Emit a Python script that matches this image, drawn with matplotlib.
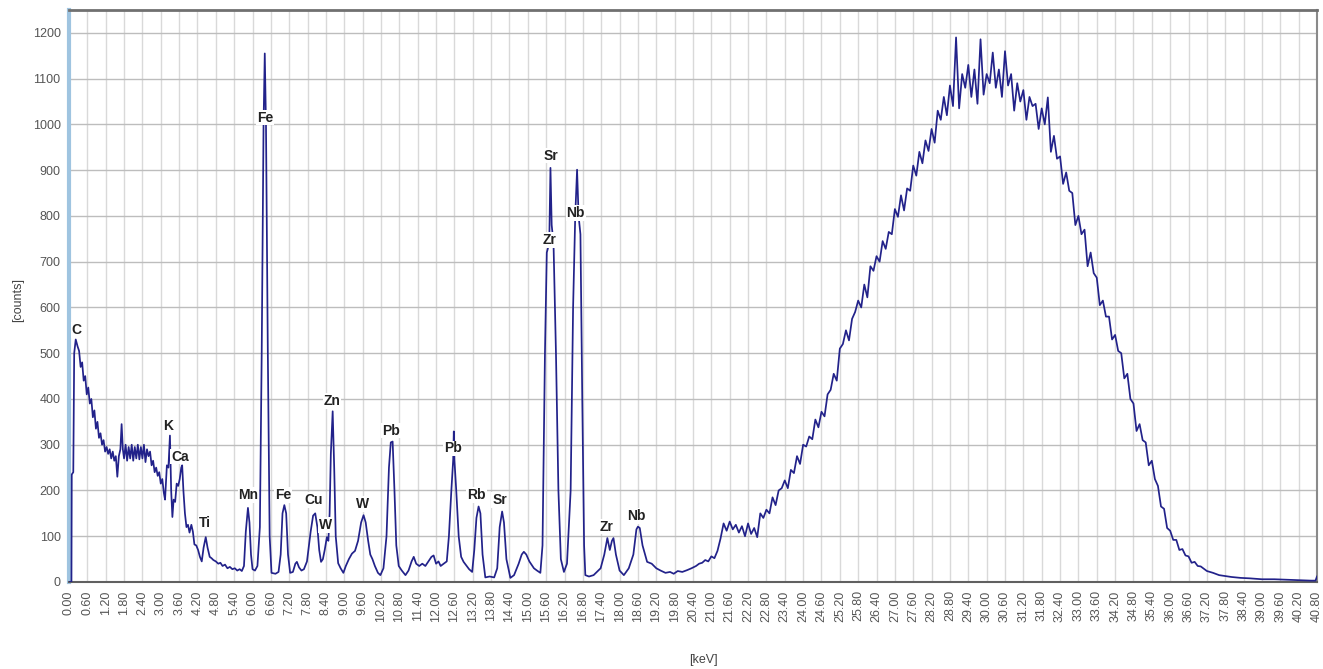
import numpy as np
import matplotlib
matplotlib.use("Agg")
import matplotlib.pyplot as plt

plt.rcParams['font.family'] = ['Liberation Sans', 'DejaVu Sans']

# low-energy part of the spectrum (keV, counts)
kev_low = [0.00, 0.08, 0.09, 0.14, 0.17, 0.22, 0.28, 0.33, 0.38, 0.43, 0.48, 0.53, 0.58, 0.63,
           0.68, 0.73, 0.78, 0.83, 0.88, 0.93, 0.98, 1.03, 1.08, 1.13, 1.18, 1.23, 1.28, 1.33,
           1.38, 1.43, 1.48, 1.53, 1.58, 1.63, 1.68, 1.72, 1.76, 1.80, 1.85, 1.90, 1.95, 2.00,
           2.05, 2.10, 2.15, 2.20, 2.25, 2.30, 2.35, 2.40, 2.45, 2.50, 2.55, 2.60, 2.65, 2.70,
           2.75, 2.80, 2.85, 2.90, 2.95, 3.00, 3.05, 3.10, 3.14, 3.20, 3.25, 3.30, 3.34, 3.38,
           3.42, 3.47, 3.52, 3.57, 3.62, 3.67, 3.70, 3.74, 3.79, 3.84, 3.89, 3.94, 4.00, 4.05,
           4.10, 4.16, 4.22, 4.28, 4.34, 4.40, 4.47, 4.53, 4.60, 4.66, 4.72, 4.80, 4.88, 4.95,
           5.02, 5.10, 5.18, 5.26, 5.34, 5.42, 5.50, 5.58, 5.65, 5.72, 5.78, 5.85, 5.90, 5.95,
           6.00, 6.08, 6.16, 6.24, 6.30, 6.36, 6.40, 6.44, 6.50, 6.56, 6.62, 6.75, 6.85, 6.92,
           6.98, 7.04, 7.10, 7.16, 7.23, 7.32, 7.40, 7.45, 7.52, 7.60, 7.68, 7.78, 7.90, 7.98,
           8.05, 8.12, 8.18, 8.24, 8.30, 8.36, 8.43, 8.48, 8.52, 8.56, 8.62, 8.67, 8.72, 8.80,
           8.88, 8.97, 9.05, 9.15, 9.25, 9.35, 9.45, 9.55, 9.63, 9.70, 9.78, 9.85, 9.92, 10.00,
           10.10, 10.18, 10.28, 10.38, 10.46, 10.52, 10.58, 10.64, 10.70, 10.78, 10.88, 11.00,
           11.10, 11.20, 11.27, 11.35, 11.45, 11.55, 11.65, 11.75, 11.85, 11.92, 12.00, 12.08,
           12.15, 12.25, 12.35, 12.42, 12.50, 12.56, 12.58, 12.60, 12.66, 12.74, 12.82, 12.90,
           13.00, 13.08, 13.18, 13.25, 13.32, 13.39, 13.45, 13.52, 13.61, 13.75, 13.90, 14.00,
           14.08, 14.16, 14.22, 14.30, 14.43, 14.55, 14.70, 14.80, 14.87, 14.95, 15.05, 15.20,
           15.30, 15.41, 15.48, 15.56, 15.62, 15.70, 15.74, 15.78, 15.84, 15.92, 16.00, 16.08,
           16.18, 16.28, 16.40, 16.48, 16.55, 16.61, 16.66, 16.72, 16.78, 16.84, 16.88, 17.00,
           17.15, 17.30, 17.38, 17.50, 17.60, 17.68, 17.75, 17.80, 17.88, 18.00, 18.14, 18.30,
           18.45, 18.55, 18.60, 18.66, 18.75, 18.90, 19.05, 19.20, 19.34, 19.50, 19.65, 19.77,
           19.90, 20.05, 20.21, 20.35, 20.50, 20.60]
cnt_low = [0, 0, 235, 240, 500, 530, 515, 505, 470, 480, 440, 450, 410, 425,
           390, 400, 360, 375, 335, 350, 315, 325, 300, 310, 285, 295, 280, 290,
           270, 285, 265, 275, 230, 275, 290, 345, 290, 270, 300, 265, 295, 270,
           300, 265, 295, 270, 300, 268, 295, 270, 300, 262, 290, 275, 285, 255,
           265, 240, 250, 232, 240, 215, 225, 195, 180, 255, 250, 320, 200, 142,
           180, 175, 215, 210, 225, 250, 255, 200, 150, 120, 125, 108, 125, 110,
           82, 80, 70, 55, 45, 75, 98, 75, 55, 52, 48, 45, 40, 42,
           35, 38, 30, 33, 28, 30, 25, 28, 24, 35, 110, 162, 130, 60,
           28, 25, 35, 120, 500, 1000, 1155, 1000, 500, 100, 20, 18, 22, 60,
           150, 168, 150, 60, 20, 22, 40, 44, 32, 25, 28, 45, 110, 145,
           150, 120, 70, 44, 50, 70, 98, 90, 150, 280, 373, 250, 100, 41,
           30, 20, 35, 50, 62, 68, 90, 130, 146, 130, 90, 60, 50, 35,
           20, 15, 30, 100, 250, 305, 307, 200, 80, 35, 25, 15,
           25, 45, 55, 40, 35, 40, 35, 45, 55, 58, 40, 45,
           35, 40, 45, 100, 200, 267, 329, 267, 200, 100, 55, 44,
           35, 28, 22, 70, 140, 165, 150, 60, 10, 12, 10, 30,
           120, 154, 130, 50, 9, 15, 40, 60, 66, 60, 45, 30,
           25, 20, 80, 500, 720, 740, 905, 780, 740, 500, 200, 50,
           22, 40, 200, 600, 800, 901, 800, 760, 400, 80, 15, 12,
           15, 25, 30, 60, 96, 70, 90, 96, 60, 25, 15, 30,
           60, 115, 121, 118, 80, 44, 40, 30, 25, 20, 22, 18,
           24, 22, 26, 30, 35, 40]

# broad scatter hump, channels every 0.1 keV from 20.7 keV
bump_start = 20.7
bump_step = 0.1
cnt_bump = [42, 48, 45, 56, 52, 68, 95, 128, 112, 132, 115, 125, 108, 122, 100, 128, 105, 118, 98,
            150, 140, 158, 150, 185, 168, 200, 205, 222, 205, 245, 238, 275, 258, 300, 296, 318,
            312, 355, 338, 372, 362, 410, 420, 455, 440, 510, 520, 550, 528, 575, 590, 615, 600,
            650, 622, 690, 680, 712, 700, 745, 728, 765, 760, 815, 798, 845, 812, 860, 855, 910,
            888, 940, 915, 965, 942, 990, 960, 1030, 1010, 1060, 1020, 1085, 1040, 1190, 1035,
            1110, 1080, 1130, 1060, 1120, 1045, 1186, 1065, 1110, 1090, 1157, 1080, 1120, 1060,
            1160, 1085, 1110, 1030, 1090, 1050, 1075, 1010, 1060, 1040, 1045, 990, 1035, 1000,
            1059, 940, 975, 925, 930, 870, 895, 855, 850, 780, 800, 760, 770, 690, 720, 675, 665,
            605, 615, 580, 580, 530, 540, 505, 500, 445, 455, 400, 390, 330, 345, 310, 305, 255,
            265, 225, 210, 165, 160, 118, 112, 92, 92, 70, 72, 58, 56, 42, 44, 35, 34]

# tail to the end of the range
kev_tail = [37.2, 37.4, 37.6, 37.8, 38.0, 38.3, 38.6, 39.0, 39.4, 39.8, 40.2, 40.6, 40.75, 40.8]
cnt_tail = [24, 20, 15, 13, 11, 9, 8, 6, 6, 5, 4, 3, 3, 12]

# peak labels (element, keV, counts)
peak_names = ['C', 'K', 'Ca', 'Ti', 'Mn', 'Fe', 'Fe', 'Cu', 'W', 'Zn', 'W', 'Pb', 'Pb',
              'Rb', 'Sr', 'Sr', 'Zr', 'Nb', 'Zr', 'Nb']
peak_kev = [0.25, 3.25, 3.63, 4.45, 5.87, 6.41, 6.99, 7.99, 8.38, 8.60, 9.61, 10.53, 12.54,
            13.32, 14.08, 15.76, 15.72, 16.56, 17.56, 18.54]
peak_cnt = [551, 340, 274, 128, 190, 1015, 190, 179, 125, 395, 171, 331, 292,
            190, 179, 932, 748, 807, 121, 144]

kev_bump = np.round(bump_start + bump_step * np.arange(len(cnt_bump)), 2)
kev = np.concatenate([kev_low, kev_bump, kev_tail])
cnt = np.concatenate([cnt_low, cnt_bump, cnt_tail])

fig = plt.figure(figsize=(13.23, 6.69), dpi=100)
ax = fig.add_axes([69 / 1323, 1 - 582 / 669, (1317 - 69) / 1323, 572 / 669])

ax.plot(kev, cnt, color='#22228a', lw=1.25, zorder=3)

ax.set_xlim(0, 40.8)
ax.set_ylim(0, 1250)
xt = np.round(np.arange(0, 40.81, 0.6), 2)
ax.set_xticks(xt)
ax.set_xticklabels([f"{v:.2f}" for v in xt], rotation=90, fontsize=9, color='#555555')
ax.set_yticks(np.arange(0, 1201, 100))
ax.tick_params(axis='y', labelsize=9, labelcolor='#555555', length=0, pad=6)
ax.tick_params(axis='x', length=0, pad=6)
ax.grid(axis='x', color='#d9d9d9', lw=1.0)
ax.grid(axis='y', color='#bdbdbd', lw=1.0)
ax.set_axisbelow(True)

ax.spines['left'].set_color('#9fc4e0')
ax.spines['left'].set_linewidth(3)
ax.spines['top'].set_color('#707070')
ax.spines['top'].set_linewidth(2)
ax.spines['bottom'].set_color('#606060')
ax.spines['bottom'].set_linewidth(1.5)
ax.spines['right'].set_color('#8a8a8a')
ax.spines['right'].set_linewidth(1.5)

for name, x, y in zip(peak_names, peak_kev, peak_cnt):
    ax.text(x, y, name, ha='center', va='center', fontsize=10, fontweight='bold',
            color='#222222', zorder=4,
            bbox=dict(facecolor='white', edgecolor='none', pad=0.6))

fig.text(703 / 1323, 1 - 660 / 669, '[keV]', ha='center', va='center', fontsize=9, color='#444444')
fig.text(18 / 1323, 1 - 300 / 669, '[counts]', ha='center', va='center', rotation=90,
         fontsize=9, color='#444444')

fig.savefig('out.png', dpi=100)
